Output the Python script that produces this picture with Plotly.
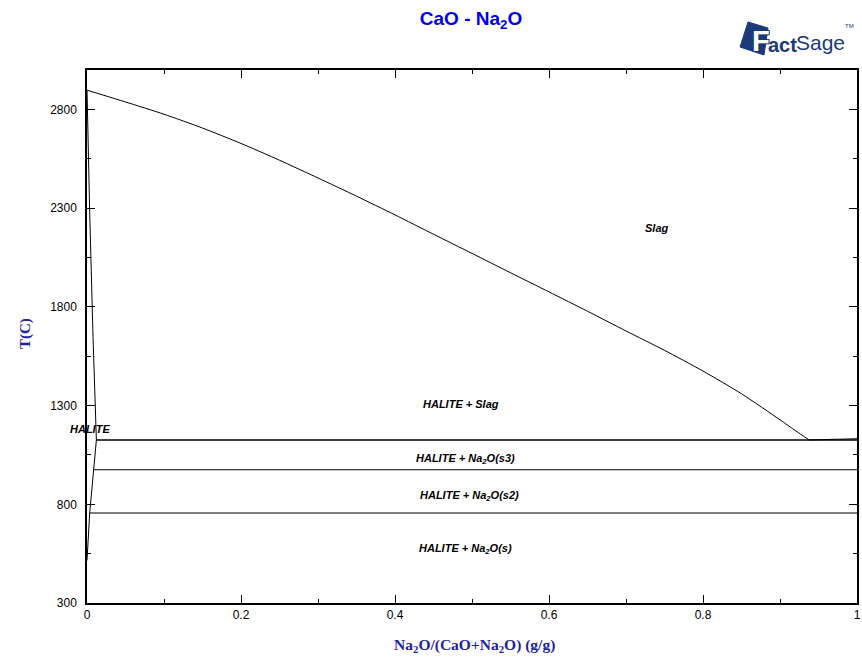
import plotly.graph_objects as go

# CaO-side liquidus: Slag / HALITE + Slag boundary
liq_x = [0.0, 0.05, 0.10, 0.15, 0.20, 0.25, 0.30, 0.35, 0.40, 0.45,
         0.50, 0.55, 0.60, 0.65, 0.70, 0.75, 0.80, 0.85, 0.90, 0.92, 0.938]
liq_T = [2898, 2838, 2776, 2706, 2628, 2543, 2453, 2361, 2266, 2168,
         2071, 1973, 1876, 1778, 1678, 1580, 1475, 1360, 1228, 1173, 1126]

# Na2O-side liquidus
na2o_liq_x = [0.938, 0.97, 1.0]
na2o_liq_T = [1126, 1130, 1132]

# HALITE solidus and solvus (CaO-rich solid solution)
solidus_x = [0.0, 0.001, 0.0035, 0.0078, 0.0122]
solidus_T = [2898, 2760, 2280, 1650, 1126]
solvus_x = [0.0122, 0.0087, 0.0035, 0.0]
solvus_T = [1126, 975, 756, 515]

# Invariant / transition isotherms
iso_T = [1126, 975, 756]
iso_x0 = [0.0122, 0.0087, 0.0035]
iso_x1 = [1.0, 1.0, 1.0]

# Phase-field labels
lab_text = ["Slag", "HALITE + Slag", "HALITE + Na<sub>2</sub>O(s3)",
            "HALITE + Na<sub>2</sub>O(s2)", "HALITE + Na<sub>2</sub>O(s)", "HALITE"]
lab_x = [0.740, 0.4855, 0.491, 0.497, 0.491, 0.004]
lab_T = [2199, 1309, 1031, 843, 574, 1183]

# Axis ticks
x_ticks = [0, 0.2, 0.4, 0.6, 0.8, 1]
x_ticktext = ["0", "0.2", "0.4", "0.6", "0.8", "1"]
y_ticks = [300, 800, 1300, 1800, 2300, 2800]

W, H = 862, 657
L, R, T, B = 87, 5, 70, 54
PW, PH = W - L - R, H - T - B


def px(xp):
    return (xp - L) / PW


def py(yp):
    return (H - B - yp) / PH


fig = go.Figure()
line = dict(color="black", width=1)

fig.add_trace(go.Scatter(x=liq_x, y=liq_T, mode="lines",
                         line=dict(color="black", width=1, shape="spline",
                                   smoothing=0.6)))
fig.add_trace(go.Scatter(x=na2o_liq_x, y=na2o_liq_T, mode="lines", line=line))
fig.add_trace(go.Scatter(x=solidus_x, y=solidus_T, mode="lines", line=line))
fig.add_trace(go.Scatter(x=solvus_x, y=solvus_T, mode="lines", line=line))
for t, a, b in zip(iso_T, iso_x0, iso_x1):
    w = 1.6 if t == iso_T[0] else 1.1
    fig.add_trace(go.Scatter(x=[a, b], y=[t, t], mode="lines",
                             line=dict(color="black", width=w)))

for txt, x, y in zip(lab_text, lab_x, lab_T):
    fig.add_annotation(x=x, y=y, xref="x", yref="y", text=f"<b><i>{txt}</i></b>",
                       xanchor="center", yanchor="middle",
                       showarrow=False, font=dict(family="Liberation Sans, Arial",
                                                  size=11, color="black"))

# Axis titles
axis_blue = "#2222a8"
fig.add_annotation(x=px(25), y=py(334), xref="paper", yref="paper",
                   xanchor="center", yanchor="middle",
                   text="<b>T(C)</b>", textangle=-90, showarrow=False,
                   font=dict(family="Liberation Serif, Times New Roman", size=15,
                             color=axis_blue))
fig.add_annotation(x=px(475), y=py(645), xref="paper", yref="paper",
                   xanchor="center", yanchor="middle",
                   text="<b>Na<sub>2</sub>O/(CaO+Na<sub>2</sub>O) (g/g)</b>",
                   showarrow=False,
                   font=dict(family="Liberation Serif, Times New Roman", size=15.5,
                             color=axis_blue))

# FactSage logo
navy = "#1d3a78"
outline = (f"1px 1px 0 {navy}, -1px -1px 0 {navy}, "
           f"1px -1px 0 {navy}, -1px 1px 0 {navy}")
fig.add_shape(type="path", xref="paper", yref="paper",
              path=(f"M {px(748)},{py(22)} L {px(768)},{py(28)} "
                    f"L {px(764)},{py(55)} L {px(740)},{py(47)} Z"),
              fillcolor=navy, line=dict(color=navy, width=1))
fig.add_annotation(x=px(761), y=py(41), xref="paper", yref="paper",
                   xanchor="center", yanchor="middle", text="<b>F</b>",
                   showarrow=False,
                   font=dict(family="Liberation Sans, Arial", size=29, color="white",
                             shadow=outline))
fig.add_annotation(x=px(782), y=py(45), xref="paper", yref="paper",
                   xanchor="center", yanchor="middle", text="<b>act</b>",
                   showarrow=False,
                   font=dict(family="Liberation Sans, Arial", size=20, color=navy))
fig.add_annotation(x=px(820), y=py(42), xref="paper", yref="paper",
                   xanchor="center", yanchor="middle", text="Sage",
                   showarrow=False,
                   font=dict(family="Liberation Sans Narrow, Liberation Sans, Arial",
                             size=21, color=navy))
fig.add_annotation(x=px(849), y=py(26), xref="paper", yref="paper",
                   xanchor="center", yanchor="middle", text="TM",
                   showarrow=False,
                   font=dict(family="Liberation Sans, Arial", size=6, color=navy))

axis_common = dict(showgrid=False, zeroline=False, showline=True, linecolor="black",
                   linewidth=1.5, mirror="ticks", ticks="inside", ticklen=8,
                   tickcolor="black", tickwidth=1.2, automargin=False,
                   tickfont=dict(family="Liberation Sans, Arial", size=12,
                                 color="black"))

fig.update_xaxes(range=[0, 1], tickvals=x_ticks, ticktext=x_ticktext,
                 minor=dict(ticks="inside", ticklen=4, dtick=0.1, tick0=0,
                            tickcolor="black"),
                 **axis_common)
fig.update_yaxes(range=[300, 3000], tickvals=y_ticks,
                 minor=dict(ticks="inside", ticklen=4, dtick=250, tick0=300,
                            tickcolor="black"),
                 ticklabelstandoff=6,
                 **axis_common)

fig.update_layout(
    width=W, height=H,
    margin=dict(l=L, r=R, t=T, b=B),
    paper_bgcolor="white", plot_bgcolor="white",
    showlegend=False,
    title=dict(text="<b>CaO - Na<sub>2</sub>O</b>", x=471 / W, xref="container",
               xanchor="center", y=1 - 18 / H, yanchor="middle",
               font=dict(family="Liberation Sans, Arial", size=19, color="#0000ee")),
)

fig.write_html("out.html")
